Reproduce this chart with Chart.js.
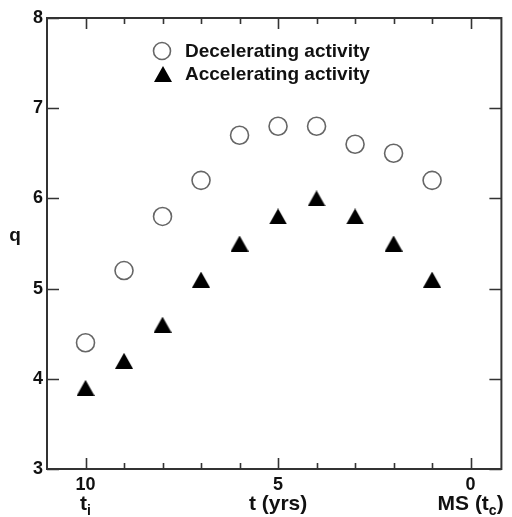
<!DOCTYPE html>
<html>
<head>
<meta charset="utf-8">
<title>q vs t</title>
<script src="https://cdn.jsdelivr.net/npm/chart.js@4/dist/chart.umd.min.js"></script>
<style>
  html, body { margin: 0; padding: 0; background: #fff; }
  #wrap { width: 512px; height: 517px; }
</style>
</head>
<body>
<div id="wrap"><canvas id="qChart" width="512" height="517"></canvas></div>
<script>
// ---- data ----
const tYears = [10, 9, 8, 7, 6, 5, 4, 3, 2, 1];
const qDecelerating = [4.4, 5.2, 5.8, 6.2, 6.7, 6.8, 6.8, 6.6, 6.5, 6.2];
const qAccelerating = [3.9, 4.2, 4.6, 5.1, 5.5, 5.8, 6.0, 5.8, 5.5, 5.1];

const xMajorTicks = [10, 5, 0];
const xMinorTicks = [10, 9, 8, 7, 6, 5, 4, 3, 2, 1, 0];
const yTicks = [3, 4, 5, 6, 7, 8];
// second line under the x tick labels, as [text, subscript]
const xSubLabels = [["t", "i"], ["t (yrs)", ""], ["MS (t", "c", ")"]];

const seriesNames = ["Decelerating activity", "Accelerating activity"];

const FONT = "'Liberation Sans', Arial, Helvetica, sans-serif";
const INK = "#333";

// triangle marker centred on its bounding box
function triangleMarker(w, h) {
  const c = document.createElement("canvas");
  c.width = w; c.height = h;
  const g = c.getContext("2d");
  g.fillStyle = "#000";
  g.beginPath();
  g.moveTo(w / 2, 0);
  g.lineTo(w, h);
  g.lineTo(0, h);
  g.closePath();
  g.fill();
  return c;
}
const triImg = triangleMarker(18, 16);

function drawLabelParts(ctx, parts, cx, baseY, size) {
  // parts: [main, sub, tail]
  const main = parts[0], sub = parts[1] || "", tail = parts[2] || "";
  const big = `bold ${size}px ${FONT}`;
  const small = `bold ${Math.round(size * 0.68)}px ${FONT}`;
  ctx.font = big; const w1 = ctx.measureText(main).width;
  ctx.font = small; const w2 = ctx.measureText(sub).width;
  ctx.font = big; const w3 = ctx.measureText(tail).width;
  let x = cx - (w1 + w2 + w3) / 2;
  ctx.textAlign = "left";
  ctx.textBaseline = "alphabetic";
  ctx.font = big; ctx.fillText(main, x, baseY); x += w1;
  ctx.font = small; ctx.fillText(sub, x, baseY + size * 0.22); x += w2;
  ctx.font = big; ctx.fillText(tail, x, baseY);
}

const framePlugin = {
  id: "frame",
  afterDatasetsDraw(chart) {
    const { ctx, chartArea: a, scales: { x, y } } = chart;
    ctx.save();
    ctx.strokeStyle = INK;
    ctx.fillStyle = "#111";
    ctx.lineWidth = 2;
    ctx.strokeRect(a.left, a.top, a.right - a.left, a.bottom - a.top);

    // inward x ticks, top and bottom
    ctx.lineWidth = 1.6;
    xMinorTicks.forEach((v) => {
      const px = Math.round(x.getPixelForValue(v)) + 0.5;
      const len = xMajorTicks.includes(v) ? 11 : 6;
      ctx.beginPath();
      ctx.moveTo(px, a.bottom); ctx.lineTo(px, a.bottom - len);
      ctx.moveTo(px, a.top); ctx.lineTo(px, a.top + len);
      ctx.stroke();
    });
    // inward y ticks, left and right
    yTicks.forEach((v) => {
      const py = Math.round(y.getPixelForValue(v)) + 0.5;
      ctx.beginPath();
      ctx.moveTo(a.left, py); ctx.lineTo(a.left + 12, py);
      ctx.moveTo(a.right, py); ctx.lineTo(a.right - 12, py);
      ctx.stroke();
    });

    // y tick labels
    ctx.font = `bold 18px ${FONT}`;
    ctx.textAlign = "right";
    ctx.textBaseline = "middle";
    yTicks.forEach((v) => ctx.fillText(String(v), a.left - 4, y.getPixelForValue(v)));

    // x tick labels + second line
    ctx.textAlign = "center";
    ctx.textBaseline = "alphabetic";
    xMajorTicks.forEach((v, i) => {
      const px = x.getPixelForValue(v);
      ctx.font = `bold 18px ${FONT}`;
      ctx.textAlign = "center";
      ctx.fillText(String(v), px, a.bottom + 21);
      drawLabelParts(ctx, xSubLabels[i], px, a.bottom + 41, 21);
    });

    // y axis title
    ctx.font = `bold 19px ${FONT}`;
    ctx.textAlign = "center";
    ctx.textBaseline = "middle";
    ctx.fillText("q", 15, 236);

    // legend inside the plot
    ctx.strokeStyle = "#666";
    ctx.lineWidth = 1.6;
    ctx.beginPath();
    ctx.arc(162, 51, 8.5, 0, Math.PI * 2);
    ctx.stroke();
    ctx.drawImage(triImg, 154, 66);
    ctx.font = `bold 19px ${FONT}`;
    ctx.textAlign = "left";
    ctx.fillText(seriesNames[0], 185, 52);
    ctx.fillText(seriesNames[1], 185, 75);
    ctx.restore();
  }
};

new Chart(document.getElementById("qChart"), {
  type: "scatter",
  data: {
    datasets: [
      {
        label: seriesNames[0],
        data: tYears.map((t, i) => ({ x: t, y: qDecelerating[i] })),
        pointStyle: "circle",
        pointRadius: 9,
        pointBorderWidth: 1.6,
        pointBorderColor: "#666",
        pointBackgroundColor: "#fff"
      },
      {
        label: seriesNames[1],
        data: tYears.map((t, i) => ({ x: t, y: qAccelerating[i] })),
        pointStyle: triImg,
        pointRadius: 9
      }
    ]
  },
  options: {
    responsive: false,
    animation: false,
    layout: { padding: { left: 47, right: 9, top: 18, bottom: 48 } },
    plugins: { legend: { display: false }, tooltip: { enabled: false } },
    scales: {
      x: { type: "linear", reverse: true, min: -0.8, max: 11, display: false },
      y: { type: "linear", min: 3, max: 8, display: false }
    }
  },
  plugins: [framePlugin]
});
</script>
</body>
</html>
